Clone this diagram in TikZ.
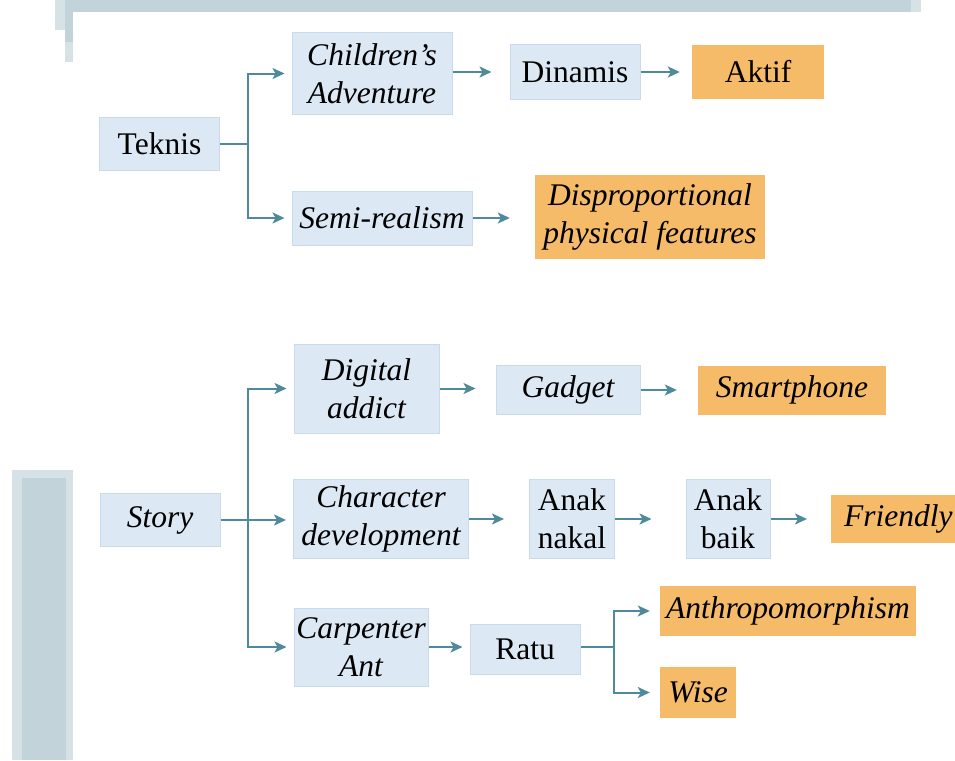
\documentclass[tikz,border=0pt]{standalone}
\usepackage{fontspec}
\setmainfont{Liberation Serif}
\usetikzlibrary{arrows.meta}
\definecolor{boxfill}{HTML}{DCE8F4}
\definecolor{boxline}{HTML}{C9DAEA}
\definecolor{orfill}{HTML}{F6BB69}
\definecolor{arrcol}{HTML}{4E8A9A}
\definecolor{bandcol}{HTML}{C2D3DA}
\definecolor{bandlight}{HTML}{D6E2E6}
\newcommand{\dfont}{\fontsize{31.5}{38}\selectfont}
\tikzset{
  bbox/.style={draw=boxline, line width=1pt, fill=boxfill, inner sep=0pt, align=center,
    font=\dfont},
  bboxi/.style={bbox, font=\dfont\itshape},
  obox/.style={fill=orfill, inner sep=0pt, align=center, font=\dfont\itshape},
  conn/.style={draw=arrcol, line width=2pt},
  arr/.style={conn, -{Stealth[length=12pt,width=11pt,inset=3pt]}, shorten >=7pt},
}
\begin{document}
\begin{tikzpicture}[x=1pt,y=-1pt]
\useasboundingbox (0,0) rectangle (955,760);
% background decorations
\fill[bandlight] (55,0) rectangle (65,30);
\fill[bandcol] (65,0) rectangle (911,12);
\fill[bandlight] (911,0) rectangle (921,12);
\fill[bandcol] (65,12) rectangle (73,42);
\fill[bandlight] (65,42) rectangle (73,62);
\fill[bandlight] (12,470) rectangle (73,760);
\fill[bandcol] (22,478) rectangle (66,760);

% top tree
\node[bbox, minimum width=120pt, minimum height=53pt] (teknis) at (159.5,144) {Teknis};
\node[bboxi, minimum width=160pt, minimum height=81pt] (chad) at (372,73.5) {Children’s\\Adventure};
\node[bbox, minimum width=130pt, minimum height=54pt] (dinamis) at (575,72) {Dinamis};
\node[obox, minimum width=132pt, minimum height=54pt, font=\dfont] (aktif) at (758,72) {Aktif};
\node[bboxi, minimum width=180pt, minimum height=54pt] (semi) at (382,218) {Semi-realism};
\node[obox, minimum width=230pt, minimum height=84pt] (disp) at (650,217) {Disproportional\\physical features};

\coordinate (tb) at (248,144);
\draw[conn] (teknis.east) -- (tb);
\draw[arr] (tb) |- (chad.west);
\draw[arr] (tb) |- (semi.west);
\draw[arr, shorten >=18pt] (chad.east |- dinamis.west) -- (dinamis.west);
\draw[arr, shorten >=12pt] (dinamis.east) -- (aktif.west);
\draw[arr, shorten >=25pt] (semi.east) -- (disp.west |- semi.east);

% bottom tree
\node[bboxi, minimum width=120pt, minimum height=53pt] (story) at (160,520) {Story};
\node[bboxi, minimum width=145pt, minimum height=89pt] (digital) at (366.5,388.5) {Digital\\addict};
\node[bboxi, minimum width=144pt, minimum height=49pt] (gadget) at (568,390) {Gadget};
\node[obox, minimum width=188pt, minimum height=49pt] (smart) at (792,390) {Smartphone};
\node[bboxi, minimum width=175pt, minimum height=79pt] (chardev) at (381,519) {Character\\development};
\node[bbox, minimum width=85pt, minimum height=79pt] (nakal) at (572,519) {Anak\\nakal};
\node[bbox, minimum width=84pt, minimum height=79pt] (baik) at (728,519) {Anak\\baik};
\node[obox, minimum width=132pt, minimum height=48pt, anchor=west, text width=124pt, align=left] (friendly) at (831,519) {\hspace*{9pt}Friendly};
\node[bboxi, minimum width=134pt, minimum height=78pt] (carp) at (361,647) {Carpenter\\Ant};
\node[bbox, minimum width=110pt, minimum height=50pt] (ratu) at (525,649) {Ratu};
\node[obox, minimum width=256pt, minimum height=50pt] (anthro) at (788,611) {Anthropomorphism};
\node[obox, minimum width=76pt, minimum height=51pt] (wise) at (698,692.5) {Wise};

\coordinate (sb) at (248,520);
\draw[conn] (story.east) -- (sb);
\draw[arr] (sb) |- (digital.west);
\draw[arr] (sb) -- (chardev.west |- sb);
\draw[arr] (sb) |- (carp.west);
\draw[arr, shorten >=20pt] (digital.east) -- (gadget.west |- digital.east);
\draw[arr, shorten >=21pt] (gadget.east) -- (smart.west);
\draw[arr, shorten >=25pt] (chardev.east) -- (nakal.west);
\draw[arr, shorten >=34pt] (nakal.east) -- (baik.west);
\draw[arr, shorten >=24pt] (baik.east) -- (friendly.west);
\draw[arr] (carp.east) -- (ratu.west |- carp.east);
\coordinate (rb) at (614,647);
\draw[conn] (ratu.east |- rb) -- (rb);
\draw[arr, shorten >=10pt] (rb) |- (anthro.west);
\draw[arr, shorten >=10pt] (rb) |- (wise.west);
\end{tikzpicture}
\end{document}
